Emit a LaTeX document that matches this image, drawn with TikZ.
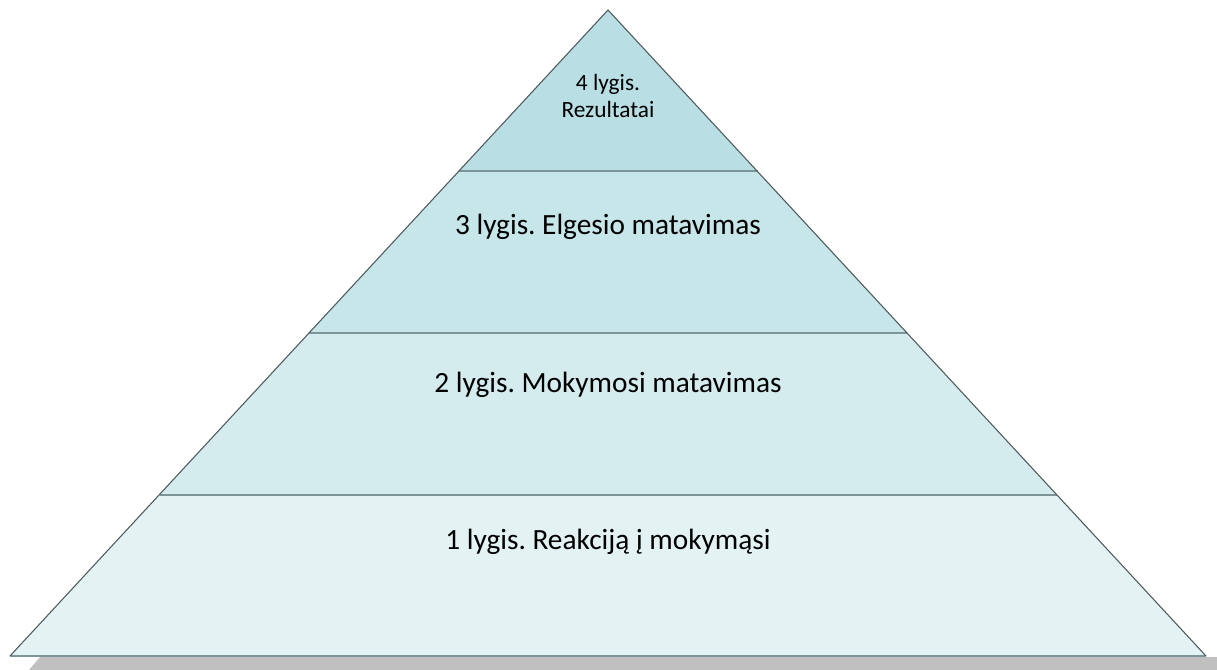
\documentclass[tikz,border=0pt]{standalone}
\usepackage{fontspec}
\setmainfont{Carlito}
\usepackage{tikz}
\usetikzlibrary{calc}
\usepackage{xcolor}
\frenchspacing

\definecolor{levelfour}{HTML}{B9DFE5}
\definecolor{levelthree}{HTML}{C7E6EA}
\definecolor{leveltwo}{HTML}{D5ECEF}
\definecolor{levelone}{HTML}{E3F3F4}
\definecolor{seplinec}{HTML}{7B9598}
\definecolor{edgec}{HTML}{4F5A5C}
\definecolor{shadowc}{HTML}{C0C0C0}

\begin{document}
\begin{tikzpicture}[
        x=0.75pt, y=-0.75pt,
        seprule/.style={
            draw=seplinec,
            line width=1.5pt
        },
        outline/.style={
            draw=edgec,
            line width=0.8pt
        },
        biglabel/.style={
            anchor=base,
            align=center,
            font=\fontsize{22}{26}\selectfont
        },
        smalllabel/.style={
            align=center,
            font=\fontsize{17.5}{20.25}\selectfont
        }
    ]
        \useasboundingbox (0,0) rectangle (1217,670);

        % Kampai
        \coordinate (apex) at (608,10);
        \coordinate (bl) at (10,656);
        \coordinate (br) at (1206,656);
        \coordinate (l1) at ($(apex)!0.25!(bl)$);
        \coordinate (r1) at ($(apex)!0.25!(br)$);
        \coordinate (l2) at ($(apex)!0.5!(bl)$);
        \coordinate (r2) at ($(apex)!0.5!(br)$);
        \coordinate (l3) at ($(apex)!0.75!(bl)$);
        \coordinate (r3) at ($(apex)!0.75!(br)$);

        % Šešėlis
        \fill[shadowc] (40,657) -- (1217,657) -- (1217,670) -- (29,670) -- cycle;

        % Lygiai
        \fill[levelfour] (apex) -- (r1) -- (l1) -- cycle;
        \fill[levelthree] (l1) -- (r1) -- (r2) -- (l2) -- cycle;
        \fill[leveltwo] (l2) -- (r2) -- (r3) -- (l3) -- cycle;
        \fill[levelone] (l3) -- (r3) -- (br) -- (bl) -- cycle;

        \draw[seprule] (l1) -- (r1);
        \draw[seprule] (l2) -- (r2);
        \draw[seprule] (l3) -- (r3);
        \draw[seprule] (bl) -- (br);
        \draw[outline] (bl) -- (apex) -- (br);

        % Tekstai
        \node[smalllabel] (lvl4) at (608,96) {4 lygis.\\Rezultatai};
        \node[biglabel] (lvl3) at (608,235) {3 lygis. Elgesio matavimas};
        \node[biglabel] (lvl2) at (608,392) {2 lygis. Mokymosi matavimas};
        \node[biglabel] (lvl1) at (608,549) {1 lygis. Reakciją į mokymąsi};

    \end{tikzpicture}
\end{document}
